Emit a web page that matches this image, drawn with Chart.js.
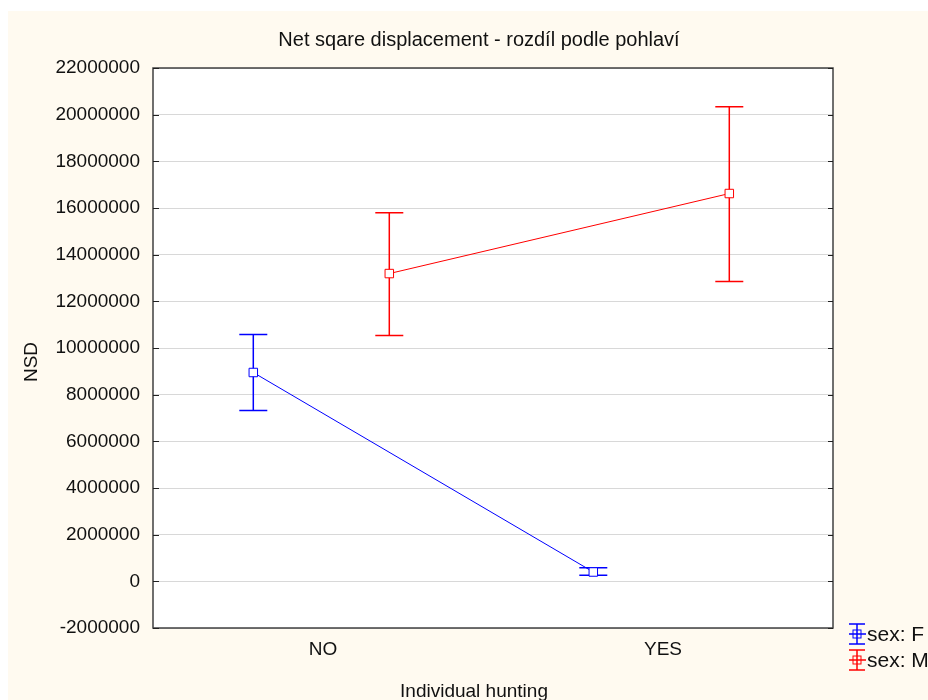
<!DOCTYPE html>
<html>
<head>
<meta charset="utf-8">
<script src="https://cdn.jsdelivr.net/npm/chart.js@4"></script>
<style>
    body { margin: 0; background: #ffffff; }
    #chart { display: block; }
</style>
</head>
<body>
<canvas id="chart" width="928" height="700"></canvas>
<script>
const categories = ['NO', 'YES'];
const seriesLabels = ['sex: F', 'sex: M'];
const seriesColors = ['#0000ff', '#ff0000'];

// means and error bar ends (NSD)
const meanF = [8950000, 400000];
const upperF = [10580000, 580000];
const lowerF = [7320000, 260000];
const meanM = [13190000, 16620000];
const upperM = [15800000, 20340000];
const lowerM = [10540000, 12850000];

const yMin = -2000000;
const yMax = 22000000;
const yStep = 2000000;

const titleText = 'Net sqare displacement - rozdíl podle pohlaví';
const xTitle = 'Individual hunting';
const yTitle = 'NSD';

const FONT = '"Liberation Sans", Arial, sans-serif';
const dodge = [-0.205, 0.195];
const means = [meanF, meanM];
const uppers = [upperF, upperM];
const lowers = [lowerF, lowerM];

// Background panels
const backgroundPlugin = {
    id: 'background',
    beforeDraw(chart) {
        const { ctx, chartArea: a } = chart;
        ctx.save();
        ctx.fillStyle = '#ffffff';
        ctx.fillRect(0, 0, chart.width, chart.height);
        ctx.fillStyle = '#fffaf0';
        ctx.fillRect(8, 11, chart.width - 8, chart.height - 11);
        ctx.fillStyle = '#ffffff';
        ctx.fillRect(a.left, a.top, a.right - a.left, a.bottom - a.top);
        ctx.restore();
    }
};

// Error bars drawn under the markers
const errorBarPlugin = {
    id: 'errorBars',
    beforeDatasetsDraw(chart) {
        const { ctx, scales: { x, y } } = chart;
        ctx.save();
        ctx.lineWidth = 1.5;
        means.forEach((m, i) => {
            ctx.strokeStyle = seriesColors[i];
            m.forEach((v, j) => {
                const px = x.getPixelForValue(j + dodge[i]);
                const top = y.getPixelForValue(uppers[i][j]);
                const bot = y.getPixelForValue(lowers[i][j]);
                ctx.beginPath();
                ctx.moveTo(px, top);
                ctx.lineTo(px, bot);
                ctx.moveTo(px - 14, top);
                ctx.lineTo(px + 14, top);
                ctx.moveTo(px - 14, bot);
                ctx.lineTo(px + 14, bot);
                ctx.stroke();
            });
        });
        ctx.restore();
    }
};

// Frame, inward ticks, titles and legend
const decorPlugin = {
    id: 'decor',
    afterDraw(chart) {
        const { ctx, chartArea: a, scales: { y } } = chart;
        ctx.save();
        ctx.strokeStyle = '#404040';
        ctx.lineWidth = 1.5;
        ctx.strokeRect(a.left, a.top, a.right - a.left, a.bottom - a.top);

        ctx.lineWidth = 1;
        ctx.strokeStyle = '#202020';
        y.ticks.forEach(t => {
            const py = Math.round(y.getPixelForValue(t.value)) + 0.5;
            ctx.beginPath();
            ctx.moveTo(a.left, py);
            ctx.lineTo(a.left + 6, py);
            ctx.moveTo(a.right - 5, py);
            ctx.lineTo(a.right, py);
            ctx.stroke();
        });

        ctx.fillStyle = '#111111';
        ctx.textAlign = 'center';
        ctx.textBaseline = 'alphabetic';
        ctx.font = '20px ' + FONT;
        ctx.fillText(titleText, 479, 46);
        ctx.font = '19px ' + FONT;
        ctx.fillText(xTitle, 474, 697);

        ctx.save();
        ctx.translate(37, 362);
        ctx.rotate(-Math.PI / 2);
        ctx.fillText(yTitle, 0, 0);
        ctx.restore();

        // legend
        const legendY = [634, 660];
        ctx.textAlign = 'left';
        ctx.textBaseline = 'middle';
        ctx.font = '21px ' + FONT;
        seriesLabels.forEach((label, i) => {
            const cx = 857;
            const cy = legendY[i];
            ctx.strokeStyle = seriesColors[i];
            ctx.lineWidth = 1.5;
            ctx.beginPath();
            ctx.moveTo(cx, cy - 10);
            ctx.lineTo(cx, cy + 10);
            ctx.moveTo(cx - 8, cy - 10);
            ctx.lineTo(cx + 8, cy - 10);
            ctx.moveTo(cx - 8, cy + 10);
            ctx.lineTo(cx + 8, cy + 10);
            ctx.moveTo(cx - 8, cy);
            ctx.lineTo(cx + 9, cy);
            ctx.stroke();
            ctx.lineWidth = 1;
            ctx.strokeRect(cx - 4, cy - 4, 8, 8);
            ctx.fillStyle = '#111111';
            ctx.fillText(label, 867, cy + 1);
        });
        ctx.restore();
    }
};

const datasets = means.map((m, i) => ({
    label: seriesLabels[i],
    data: m.map((v, j) => ({ x: j + dodge[i], y: v })),
    borderColor: seriesColors[i],
    backgroundColor: '#ffffff',
    borderWidth: 1,
    pointStyle: 'rect',
    pointRadius: 6,
    pointBorderWidth: 1,
    pointBorderColor: seriesColors[i],
    pointBackgroundColor: '#ffffff',
    tension: 0,
    showLine: true
}));

new Chart(document.getElementById('chart'), {
    type: 'scatter',
    data: { datasets },
    options: {
        responsive: false,
        animation: false,
        layout: { padding: { top: 68, right: 95, left: 0, bottom: 0 } },
        plugins: {
            legend: { display: false },
            tooltip: { enabled: false },
            title: { display: false }
        },
        scales: {
            x: {
                type: 'linear',
                min: -0.5,
                max: 1.5,
                afterFit: s => { s.height = 72; },
                afterBuildTicks: s => { s.ticks = categories.map((c, i) => ({ value: i })); },
                ticks: {
                    callback: v => categories[v],
                    color: '#111111',
                    font: { family: FONT, size: 19 },
                    padding: 10
                },
                grid: { display: false, drawTicks: false },
                border: { display: false }
            },
            y: {
                min: yMin,
                max: yMax,
                afterFit: s => { s.width = 153; },
                ticks: {
                    stepSize: yStep,
                    callback: v => String(v),
                    color: '#111111',
                    font: { family: FONT, size: 19 },
                    padding: 13
                },
                grid: { color: '#d8d8d8', lineWidth: 1, drawTicks: false },
                border: { display: false }
            }
        }
    },
    plugins: [backgroundPlugin, errorBarPlugin, decorPlugin]
});
</script>
</body>
</html>
